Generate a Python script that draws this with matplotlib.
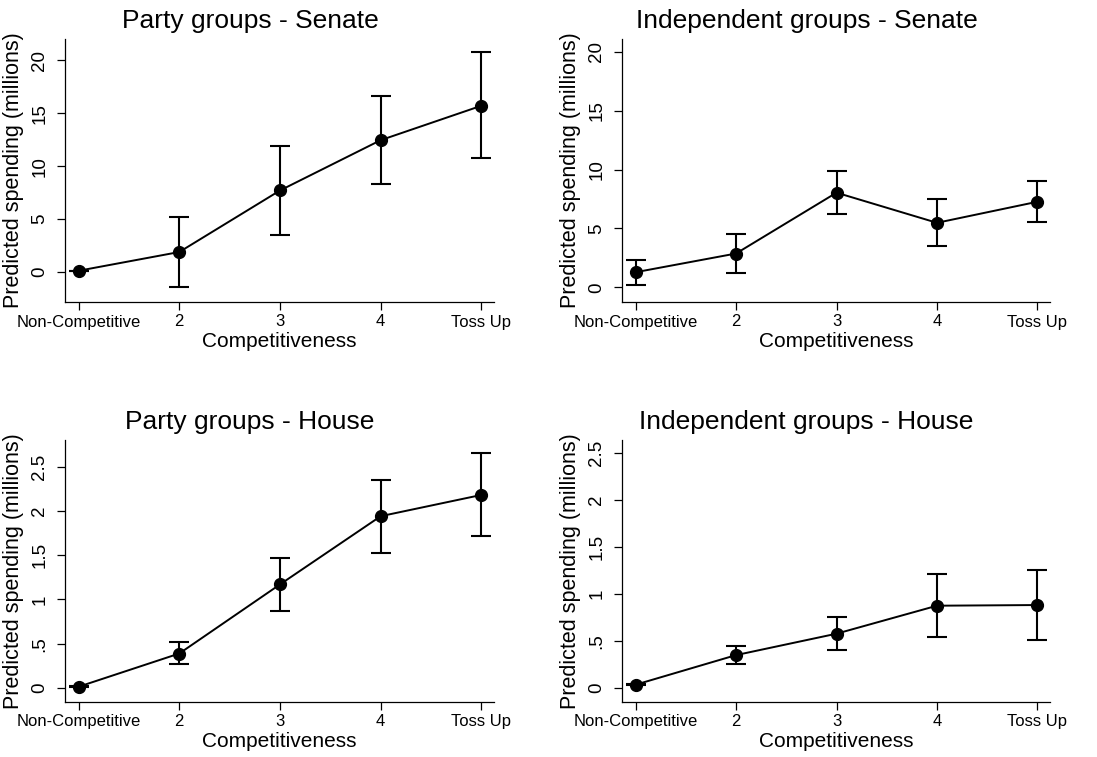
import matplotlib
matplotlib.use("Agg")
import matplotlib.pyplot as plt

plt.rcParams['font.family'] = ['Liberation Sans', 'DejaVu Sans']

categories = ["Non-Competitive", "2", "3", "4", "Toss Up"]
xpos = [1, 2, 3, 4, 5]

titles = ["Party groups - Senate", "Independent groups - Senate",
          "Party groups - House", "Independent groups - House"]

party_senate = [0.12, 1.89, 7.7, 12.45, 15.7]
party_senate_lo = [0.1, -1.42, 3.5, 8.33, 10.8]
party_senate_hi = [0.14, 5.2, 11.9, 16.6, 20.75]

indep_senate = [1.28, 2.87, 8.04, 5.48, 7.27]
indep_senate_lo = [0.22, 1.22, 6.22, 3.5, 5.54]
indep_senate_hi = [2.35, 4.52, 9.89, 7.47, 9.06]

party_house = [0.015, 0.39, 1.17, 1.94, 2.18]
party_house_lo = [0.012, 0.267, 0.872, 1.53, 1.72]
party_house_hi = [0.018, 0.515, 1.466, 2.35, 2.65]

indep_house = [0.035, 0.35, 0.578, 0.876, 0.883]
indep_house_lo = [0.032, 0.255, 0.404, 0.546, 0.511]
indep_house_hi = [0.038, 0.443, 0.752, 1.213, 1.259]

senate_ticks = [0, 5, 10, 15, 20]
senate_ticklabels = ["0", "5", "10", "15", "20"]
house_ticks = [0, 0.5, 1, 1.5, 2, 2.5]
house_ticklabels = ["0", ".5", "1", "1.5", "2", "2.5"]

panels = [
    (party_senate, party_senate_lo, party_senate_hi, senate_ticks, senate_ticklabels, (-2.83, 22.0)),
    (indep_senate, indep_senate_lo, indep_senate_hi, senate_ticks, senate_ticklabels, (-1.25, 21.1)),
    (party_house, party_house_lo, party_house_hi, house_ticks, house_ticklabels, (-0.154, 2.80)),
    (indep_house, indep_house_lo, indep_house_hi, house_ticks, house_ticklabels, (-0.146, 2.64)),
]

W, H = 1097, 757
fig = plt.figure(figsize=(W / 100, H / 100), dpi=100)
fig.patch.set_facecolor("white")

# axes boxes in pixels: left, top, right, bottom
boxes = [(65, 39, 494, 302), (622, 39, 1050, 302),
         (65, 440, 494, 701.7), (622, 440, 1050, 701.7)]

for i, (vals, lo, hi, yt, ytl, ylim) in enumerate(panels):
    l, t, r, b = boxes[i]
    ax = fig.add_axes([l / W, 1 - b / H, (r - l) / W, (b - t) / H])
    yerr = [[v - a for v, a in zip(vals, lo)], [c - v for v, c in zip(vals, hi)]]
    ax.errorbar(xpos, vals, yerr=yerr, fmt="none", ecolor="black",
                elinewidth=1.5, capsize=7, capthick=1.5, zorder=2)
    ax.plot(xpos, vals, color="black", lw=1.4, marker="o", markersize=8.5,
            markerfacecolor="black", markeredgecolor="black", zorder=3)
    ax.set_xlim(0.865, 5.125)
    ax.set_ylim(*ylim)
    ax.set_xticks(xpos)
    ax.set_xticklabels(categories, fontsize=12)
    ax.set_yticks(yt)
    ax.set_yticklabels(ytl, fontsize=13.5, rotation=90, va="center")
    for s in ["top", "right"]:
        ax.spines[s].set_visible(False)
    for s in ["left", "bottom"]:
        ax.spines[s].set_linewidth(0.9)
    ax.tick_params(axis="both", direction="out", length=6, width=0.9, color="black")
    ax.tick_params(axis="x", pad=3)
    ax.tick_params(axis="y", pad=6)
    ax.set_xlabel("Competitiveness", fontsize=15, labelpad=2)
    ax.set_ylabel("Predicted spending (millions)", fontsize=15.5, labelpad=5)
    ax.set_title(titles[i], fontsize=19, x=0.431, pad=8)

fig.savefig("out.png", dpi=100, facecolor="white")
